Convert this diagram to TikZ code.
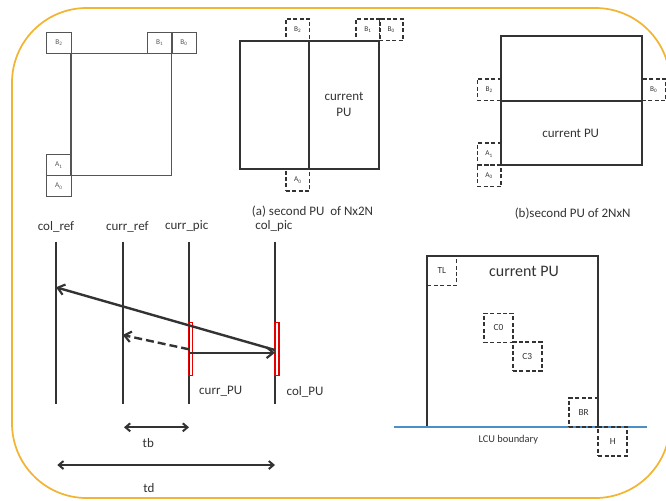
\documentclass[tikz,border=0pt]{standalone}
\usepackage{fontspec}
\setmainfont{Carlito}
\usetikzlibrary{arrows.meta}
\definecolor{frame}{HTML}{F2B533}
\definecolor{ink}{HTML}{333333}
\definecolor{grayink}{HTML}{555555}
\definecolor{lcu}{HTML}{4A8FC8}
\tikzset{
  sbox/.style={draw=grayink, line width=1pt, minimum width=18.4pt, minimum height=15.75pt, inner sep=0pt, font=\fontsize{5.5}{6}\selectfont, text=grayink},
  dbox/.style={draw=ink, line width=1.2pt, dash pattern=on 3pt off 1.8pt, minimum width=17.8pt, minimum height=16.2pt, inner sep=0pt, font=\fontsize{5.5}{6}\selectfont, text=ink},
  cbox/.style={draw=ink, line width=1.2pt, dash pattern=on 3pt off 1.8pt, minimum width=21.75pt, minimum height=21.75pt, inner sep=0pt, font=\fontsize{7}{8}\selectfont, text=ink},
  pu/.style={draw=ink, line width=1.4pt},
  lbl/.style={font=\fontsize{9.75}{11}\selectfont, text=ink, inner sep=0pt},
  tline/.style={draw=ink, line width=1.5pt},
  marr/.style={draw=ink, line width=1.8pt, -{Straight Barb[length=5pt,width=8pt,line width=1.6pt]}},
  darr/.style={<->, draw=ink, line width=1.6pt, {Straight Barb[length=3.5pt,width=6pt,line width=1.5pt]}-{Straight Barb[length=3.5pt,width=6pt,line width=1.5pt]}},
  redbox/.style={draw=red!90!black, line width=1pt}
}
\begin{document}
\begin{tikzpicture}[x=0.75pt,y=-0.75pt]
\useasboundingbox (0,0) rectangle (666,500);
% frame
\draw[frame, line width=1.3pt, rounded corners=56pt] (12,8) rectangle (670,498);

% ---------- panel 1 ----------
\draw[grayink, line width=1pt] (71,53.3) rectangle (171.7,175.7);
\node[sbox] (p1b2) at (58.9,42.8) {B\textsubscript{2}};
\node[sbox] (p1b1) at (159.7,42.8) {B\textsubscript{1}};
\node[sbox] (p1b0) at (184,42.8) {B\textsubscript{0}};
\node[sbox] (p1a1) at (58.9,165.3) {A\textsubscript{1}};
\node[sbox] (p1a0) at (58.9,186.3) {A\textsubscript{0}};

% ---------- panel 2 ----------
\draw[pu] (240,40.7) rectangle (379.3,169.3);
\draw[pu] (309.3,40.7) -- (309.3,169.3);
\node[lbl, align=center, font=\fontsize{9.75}{12}\selectfont] (p2cur) at (344,104) {current\\PU};
\node[dbox] (p2b2) at (297.8,29.8) {B\textsubscript{2}};
\node[dbox] (p2b1) at (368,29.8) {B\textsubscript{1}};
\node[dbox] (p2b0) at (391.3,29.8) {B\textsubscript{0}};
\node[dbox] (p2a0) at (297.8,180) {A\textsubscript{0}};
\node[lbl] (capa) at (312.5,212) {(a) second PU\ \ of Nx2N};

% ---------- panel 3 ----------
\draw[pu] (501,36) rectangle (641.7,164.7);
\draw[pu] (501,100.7) -- (641.7,100.7);
\node[lbl] (p3cur) at (570.7,133) {current PU};
\node[dbox] (p3b2) at (489.2,89.8) {B\textsubscript{2}};
\node[dbox] (p3b0) at (653.7,89.8) {B\textsubscript{0}};
\node[dbox] (p3a1) at (489.2,154) {A\textsubscript{1}};
\node[dbox] (p3a0) at (489.2,175.8) {A\textsubscript{0}};
\node[lbl] (capb) at (572.7,213.5) {(b)second PU of 2NxN};

% ---------- panel 4 ----------
\coordinate (crt) at (56,241.7);   \coordinate (crb) at (56,404.3);
\coordinate (urt) at (122.7,241.7); \coordinate (urb) at (122.7,404.3);
\coordinate (upt) at (189,241.7);  \coordinate (upb) at (189,404.3);
\coordinate (cpt) at (275,241.7);  \coordinate (cpb) at (275,404.3);
\draw[tline] (crt) -- (crb);
\draw[tline] (urt) -- (urb);
\draw[tline] (upt) -- (upb);
\draw[tline] (cpt) -- (cpb);
\node[lbl] (lcr) at (56,226.5) {col\_ref};
\node[lbl] (lur) at (127.3,226.5) {curr\_ref};
\node[lbl] (lup) at (186.7,226.5) {curr\_pic};
\node[lbl] (lcp) at (274,226.5) {col\_pic};
\coordinate (a1s) at (275,350);
\coordinate (a1e) at (56,287.3);
\coordinate (a2s) at (189,349.3);
\coordinate (a2e) at (122.7,335);
\coordinate (a3s) at (189,352.7);
\coordinate (a3e) at (275,352.7);
\draw[redbox] (188.3,322.3) rectangle (192.3,375.7);
\draw[redbox] (275,322.3) rectangle (279,375.7);
\draw[marr] (a1s) -- (a1e);
\draw[marr, dash pattern=on 6pt off 3pt] (a2s) -- (a2e);
\draw[marr] (a3s) -- (a3e);
\node[lbl] (lcurpu) at (220.7,391.5) {curr\_PU};
\node[lbl] (lcolpu) at (305,391.5) {col\_PU};
\coordinate (tbl) at (124,427.3); \coordinate (tbr) at (189,427.3);
\draw[darr] (tbl) -- (tbr);
\node[lbl] (ltb) at (148.3,443) {tb};
\coordinate (tdl) at (57.3,465); \coordinate (tdr) at (275,465);
\draw[darr] (tdl) -- (tdr);
\node[lbl] (ltd) at (149,488) {td};

% ---------- panel 5 ----------
\draw[pu] (427.3,426.7) -- (427.3,256) -- (598.3,256) -- (598.3,426.7);
\draw[lcu, line width=1.4pt] (394,426.7) -- (646.7,426.7);
\node[lbl, font=\fontsize{12}{14}\selectfont] (p5cur) at (524,271.5) {current PU};
\node[cbox] (tl) at (441.8,270.8) {TL};
\node[cbox] (c0) at (498.5,327.8) {C0};
\node[cbox] (c3) at (527.3,356.5) {C3};
\node[cbox] (br) at (583.7,412.5) {BR};
\node[cbox] (h) at (612.7,441.3) {H};
\node[lbl, font=\fontsize{7.8}{9}\selectfont] (lcub) at (508.3,439.5) {LCU boundary};
\end{tikzpicture}
\end{document}
